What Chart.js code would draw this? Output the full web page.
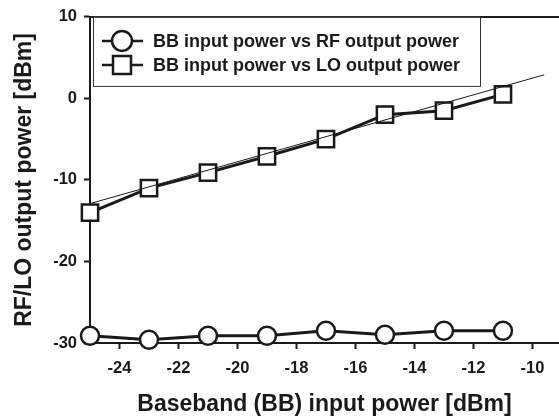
<!DOCTYPE html>
<html>
<head>
<meta charset="utf-8">
<script src="https://cdn.jsdelivr.net/npm/chart.js@4/dist/chart.umd.min.js"></script>
<style>
  html, body { margin: 0; padding: 0; background: #fff; }
  #wrap { width: 559px; height: 418px; }
</style>
</head>
<body>
<div id="wrap"><canvas id="c" width="559" height="418"></canvas></div>
<script>
// values
const bbInput = [-25, -23, -21, -19, -17, -15, -13, -11];
const rfOut = [-29.1, -29.6, -29.1, -29.1, -28.5, -29.0, -28.5, -28.5];
const loOut = [-14.0, -11.0, -9.1, -7.1, -5.0, -2.0, -1.5, 0.5];
const fitX = [-25, -9.6];
const fitY = [-12.9, 2.9];
const xTickValues = [-24, -22, -20, -18, -16, -14, -12, -10];
const yTickValues = [-30, -20, -10, 0, 10];
const seriesLabels = ['BB input power vs RF output power', 'BB input power vs LO output power'];

const ink = '#1a1a1a';
const toPoints = (xs, ys) => xs.map((x, i) => ({ x: x, y: ys[i] }));

// top frame line + legend box drawn inside the plot
const framePlugin = {
    id: 'frame',
    afterDatasetsDraw(chart) {
        const { ctx, chartArea } = chart;
        ctx.save();
        ctx.strokeStyle = ink;
        ctx.lineWidth = 2;
        ctx.beginPath();
        ctx.moveTo(chartArea.left, chartArea.top);
        ctx.lineTo(chartArea.right, chartArea.top);
        ctx.stroke();

        // legend
        const bx = chartArea.left + 3, by = chartArea.top, bw = 387, bh = 69;
        ctx.fillStyle = '#fff';
        ctx.fillRect(bx, by, bw, bh);
        ctx.lineWidth = 1;
        ctx.strokeStyle = '#333';
        ctx.strokeRect(bx + 0.5, by + 0.5, bw, bh);

        const rows = [by + 24, by + 48];
        ctx.font = 'bold 18px "Liberation Sans", Arial, sans-serif';
        ctx.textBaseline = 'middle';
        rows.forEach((ry, i) => {
            ctx.strokeStyle = ink;
            ctx.lineWidth = 2.5;
            ctx.beginPath();
            ctx.moveTo(bx + 9, ry);
            ctx.lineTo(bx + 50, ry);
            ctx.stroke();
            ctx.fillStyle = '#fff';
            ctx.beginPath();
            if (i === 0) {
                ctx.arc(bx + 29, ry, 10, 0, Math.PI * 2);
            } else {
                ctx.rect(bx + 20, ry - 9, 18, 18);
            }
            ctx.fill();
            ctx.stroke();
            ctx.fillStyle = ink;
            ctx.fillText(seriesLabels[i], bx + 60, ry + 1);
        });
        ctx.restore();
    }
};

const tickFont = { family: '"Liberation Sans", Arial, sans-serif', size: 16.5, weight: 'bold' };
const titleFont = { family: '"Liberation Sans", Arial, sans-serif', size: 23, weight: 'bold' };

new Chart(document.getElementById('c').getContext('2d'), {
    type: 'scatter',
    data: {
        datasets: [
            {
                label: 'fit',
                data: toPoints(fitX, fitY),
                showLine: true,
                borderColor: ink,
                borderWidth: 1,
                pointRadius: 0,
                pointHoverRadius: 0,
                clip: false
            },
            {
                label: seriesLabels[1],
                data: toPoints(bbInput, loOut),
                showLine: true,
                borderColor: ink,
                borderWidth: 3,
                pointStyle: 'rect',
                pointRadius: 11.5,
                pointBorderWidth: 2.5,
                pointBackgroundColor: '#fff',
                pointBorderColor: ink,
                clip: false
            },
            {
                label: seriesLabels[0],
                data: toPoints(bbInput, rfOut),
                showLine: true,
                borderColor: ink,
                borderWidth: 3,
                pointStyle: 'circle',
                pointRadius: 9,
                pointBorderWidth: 2.5,
                pointBackgroundColor: '#fff',
                pointBorderColor: ink,
                clip: false
            }
        ]
    },
    options: {
        responsive: false,
        animation: false,
        devicePixelRatio: 1,
        layout: { autoPadding: false, padding: { top: 15, right: 0, left: 0, bottom: 0 } },
        plugins: { legend: { display: false }, tooltip: { enabled: false } },
        scales: {
            x: {
                type: 'linear',
                min: -25,
                max: -9.1,
                afterBuildTicks: s => { s.ticks = xTickValues.map(v => ({ value: v })); },
                afterFit: s => { s.height = 75; s.paddingRight = 0; s.paddingLeft = 0; },
                grid: { drawOnChartArea: false, drawTicks: true, tickLength: 6, tickColor: ink, tickWidth: 2 },
                border: { display: true, color: ink, width: 2 },
                ticks: { color: ink, font: tickFont, padding: 10, maxRotation: 0 },
                title: {
                    display: true,
                    text: 'Baseband (BB) input power [dBm]',
                    color: ink,
                    font: titleFont,
                    padding: { top: 0, bottom: 0 }
                }
            },
            y: {
                type: 'linear',
                min: -30,
                max: 10,
                afterBuildTicks: s => { s.ticks = yTickValues.map(v => ({ value: v })); },
                afterFit: s => { s.width = 90; },
                grid: { drawOnChartArea: false, drawTicks: true, tickLength: 6, tickColor: ink, tickWidth: 2 },
                border: { display: true, color: ink, width: 2 },
                ticks: { color: ink, font: tickFont, padding: 7 },
                title: {
                    display: true,
                    text: 'RF/LO output power [dBm]',
                    color: ink,
                    font: titleFont,
                    padding: { top: 11, bottom: 0 }
                }
            }
        }
    },
    plugins: [framePlugin]
});
</script>
</body>
</html>
